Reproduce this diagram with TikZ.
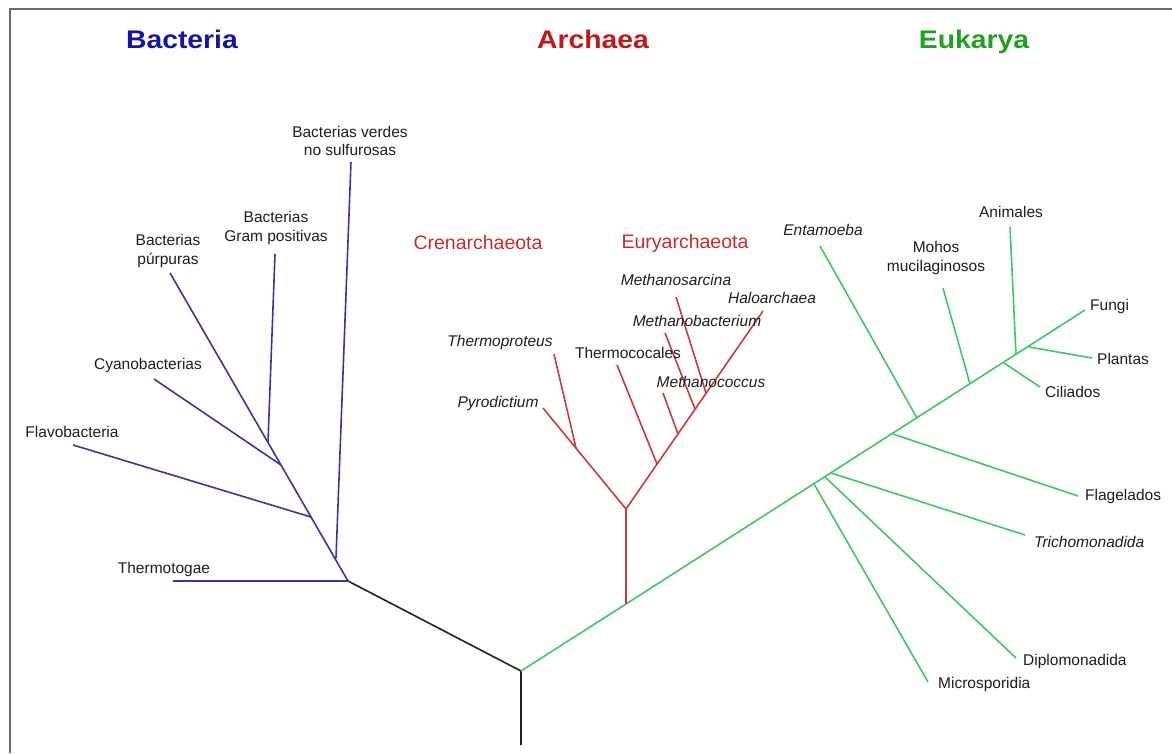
\documentclass[tikz,border=0pt]{standalone}
\usepackage{fontspec}
\setmainfont{Liberation Sans}
\definecolor{bacline}{HTML}{3636A8}
\definecolor{bactitle}{HTML}{1414A6}
\definecolor{arcline}{HTML}{CC3A3A}
\definecolor{arctitle}{HTML}{C21818}
\definecolor{arcsub}{HTML}{CC2A2A}
\definecolor{eukline}{HTML}{3EC860}
\definecolor{euktitle}{HTML}{22A022}
\definecolor{rootcol}{HTML}{222222}
\definecolor{framecol}{HTML}{6A6A6A}
\definecolor{labcol}{HTML}{1E1E1E}
\newcommand{\widetitle}[1]{\scalebox{1.11}[1]{#1}}
\begin{document}
\begin{tikzpicture}[x=1pt,y=-1pt,
  lab/.style={inner sep=0pt,text=labcol,font=\fontsize{15.5}{18.5}\selectfont,align=center},
  ilab/.style={lab,font=\fontsize{15.5}{18.5}\selectfont\itshape},
  title/.style={inner sep=0pt,anchor=base,font=\fontsize{25.5}{30}\selectfont\bfseries},
  sub/.style={inner sep=0pt,text=arcsub,font=\fontsize{19.5}{22}\selectfont},
  bac/.style={draw=bacline,line width=1.6pt},
  arc/.style={draw=arcline,line width=1.6pt},
  euk/.style={draw=eukline,line width=1.6pt},
  rt/.style={draw=rootcol,line width=1.6pt}]
\useasboundingbox (0,0) rectangle (1172,753);
\fill[white] (0,0) rectangle (1172,753);
\draw[framecol,line width=2pt] (10,753) -- (10,8.5) -- (1172,8.5);

% titles
\node[title,text=bactitle] (tb) at (182,48.5) {\widetitle{Bacteria}};
\node[title,text=arctitle] (ta) at (593,48.5) {\widetitle{Archaea}};
\node[title,text=euktitle] (te) at (974,48.5) {\widetitle{Eukarya}};
\node[sub] (cren) at (478,243) {Crenarchaeota};
\node[sub] (eury) at (685,243) {Euryarchaeota};

% root
\coordinate (rbot) at (521,745);
\coordinate (root) at (521,671);
\coordinate (bnode) at (348,581);
\draw[rt] (rbot) -- (root) -- (bnode);

% bacteria
\coordinate (bthermo) at (173,581);
\coordinate (bpurp) at (170,273);
\coordinate (bv0) at (336,558);
\coordinate (bv1) at (351,162);
\coordinate (bf0) at (311,517);
\coordinate (bf1) at (73,445);
\coordinate (bc0) at (281,465);
\coordinate (bc1) at (154,379);
\coordinate (bg0) at (268,442);
\coordinate (bg1) at (275,254);
\draw[bac] (bthermo) -- (bnode) -- (bpurp);
\draw[bac] (bv0) -- (bv1);
\draw[bac] (bf0) -- (bf1);
\draw[bac] (bc0) -- (bc1);
\draw[bac] (bg0) -- (bg1);
\node[lab] (lverdes) at (350,141) {Bacterias verdes\\no sulfurosas};
\node[lab] (lgram) at (276,228) {Bacterias\\Gram positivas};
\node[lab] (lpurp) at (168,251) {Bacterias\\púrpuras};
\node[lab] (lcyano) at (148,365) {Cyanobacterias};
\node[lab] (lflavo) at (72,432) {Flavobacteria};
\node[lab] (lthermo) at (164,569) {Thermotogae};

% eukarya trunk
\coordinate (etip) at (1085,310);
\coordinate (ajoin) at (626,604);
\draw[euk] (root) -- (ajoin) -- (etip);
\coordinate (em0) at (814,484);   \coordinate (em1) at (928,682);
\coordinate (ed0) at (825,477);   \coordinate (ed1) at (1016,658);
\coordinate (et0) at (831,473);   \coordinate (et1) at (1025,535);
\coordinate (efl0) at (893,434);  \coordinate (efl1) at (1078,496);
\coordinate (een0) at (917,418);  \coordinate (een1) at (820,246);
\coordinate (emo0) at (970,384);  \coordinate (emo1) at (943,288);
\coordinate (eci0) at (1004,363); \coordinate (eci1) at (1040,387);
\coordinate (ean0) at (1016,355); \coordinate (ean1) at (1010,227);
\coordinate (epl0) at (1029,347); \coordinate (epl1) at (1092,358);
\draw[euk] (em0) -- (em1);
\draw[euk] (ed0) -- (ed1);
\draw[euk] (et0) -- (et1);
\draw[euk] (efl0) -- (efl1);
\draw[euk] (een0) -- (een1);
\draw[euk] (emo0) -- (emo1);
\draw[euk] (eci0) -- (eci1);
\draw[euk] (ean0) -- (ean1);
\draw[euk] (epl0) -- (epl1);
\node[ilab] (lent) at (823,230) {Entamoeba};
\node[lab] (lmoh) at (936,258) {Mohos\\mucilaginosos};
\node[lab] (lani) at (1011,212) {Animales};
\node[lab,anchor=west] (lfun) at (1090,306) {Fungi};
\node[lab,anchor=west] (lpla) at (1097,359) {Plantas};
\node[lab,anchor=west] (lcil) at (1045,392) {Ciliados};
\node[lab,anchor=west] (lfla) at (1085,496) {Flagelados};
\node[ilab,anchor=west] (ltri) at (1034,542) {Trichomonadida};
\node[lab,anchor=west] (ldip) at (1023,661) {Diplomonadida};
\node[lab,anchor=west] (lmic) at (938,684) {Microsporidia};

% archaea
\coordinate (anode) at (626,509);
\coordinate (apyro) at (543,408);
\coordinate (athj) at (576,448);
\coordinate (athp) at (554,354);
\coordinate (ahalo) at (763,311);
\coordinate (atc0) at (657,464);  \coordinate (atc1) at (617,365);
\coordinate (amc0) at (678,434);  \coordinate (amc1) at (663,393);
\coordinate (amb0) at (695,409);  \coordinate (amb1) at (665,333);
\coordinate (ams0) at (706,393);  \coordinate (ams1) at (676,297);
\draw[arc] (ajoin) -- (anode);
\draw[arc] (apyro) -- (anode) -- (ahalo);
\draw[arc] (athj) -- (athp);
\draw[arc] (atc0) -- (atc1);
\draw[arc] (amc0) -- (amc1);
\draw[arc] (amb0) -- (amb1);
\draw[arc] (ams0) -- (ams1);
\node[ilab] (lmsar) at (676,280) {Methanosarcina};
\node[ilab] (lhalo) at (772,298) {Haloarchaea};
\node[ilab] (lmbac) at (697,321) {Methanobacterium};
\node[ilab] (lthp) at (500,342) {Thermoproteus};
\node[lab] (ltc) at (628,353) {Thermococales};
\node[ilab] (lmcoc) at (711,382) {Methanococcus};
\node[ilab] (lpyro) at (498,403) {Pyrodictium};
\end{tikzpicture}
\end{document}
